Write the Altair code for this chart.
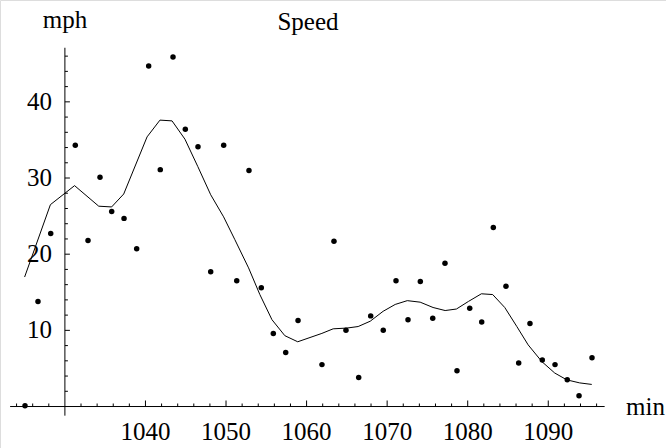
import altair as alt
import pandas as pd

# Observed speed samples (time in minutes, speed in mph)
t_obs = [1025.05, 1026.66, 1028.24, 1031.29, 1032.87, 1034.36, 1035.81, 1037.34,
         1038.91, 1040.40, 1041.84, 1043.42, 1044.95, 1046.52, 1048.10, 1049.71,
         1051.33, 1052.85, 1054.38, 1055.87, 1057.41, 1058.94, 1061.91, 1063.40,
         1064.89, 1066.47, 1067.96, 1069.52, 1071.10, 1072.59, 1074.12, 1075.66,
         1077.18, 1078.67, 1080.25, 1081.74, 1083.18, 1084.75, 1086.33, 1087.73,
         1089.26, 1090.84, 1092.36, 1093.82, 1095.43]
speed_obs = [0.1, 13.8, 22.7, 34.3, 21.8, 30.1, 25.6, 24.7,
             20.7, 44.7, 31.1, 45.9, 36.4, 34.1, 17.7, 34.3,
             16.5, 31.0, 15.6, 9.6, 7.1, 11.3, 5.5, 21.7,
             10.0, 3.8, 11.9, 10.0, 16.5, 11.4, 16.4, 11.6,
             18.8, 4.7, 12.9, 11.1, 23.5, 15.8, 5.7, 10.9,
             6.1, 5.5, 3.5, 1.4, 6.4]

# Smoothed speed curve
t_fit = [1025.0, 1028.2, 1031.2, 1034.2, 1035.8, 1037.3, 1040.2, 1041.8, 1043.3,
         1044.9, 1046.5, 1048.1, 1049.7, 1051.1, 1052.8, 1054.2, 1055.7, 1057.3,
         1058.9, 1061.9, 1063.3, 1065.0, 1066.4, 1067.9, 1069.5, 1071.0, 1072.5,
         1074.1, 1075.7, 1077.2, 1078.6, 1080.1, 1081.7, 1083.1, 1084.6, 1086.1,
         1087.5, 1089.2, 1090.8, 1092.3, 1093.9, 1095.4]
speed_fit = [17.0, 26.5, 29.0, 26.3, 26.2, 27.9, 35.4, 37.6, 37.5,
             35.1, 31.5, 27.8, 24.9, 21.9, 18.2, 14.7, 11.4, 9.3,
             8.5, 9.6, 10.2, 10.3, 10.5, 11.2, 12.5, 13.4, 13.9,
             13.7, 13.0, 12.6, 12.8, 13.8, 14.8, 14.7, 13.0, 10.5,
             8.1, 5.9, 4.4, 3.5, 3.1, 2.9]

# Axis ticks
x_major = [1040, 1050, 1060, 1070, 1080, 1090]
x_minor = [v for v in range(1024, 1097, 2) if v % 10 != 0]
y_major = [10, 20, 30, 40]
y_minor = [v for v in range(2, 47, 2) if v % 10 != 0]

# Axes cross at this origin; extents of the two axis lines
X0, Y0 = 1030, 0
X_RANGE = (1023.2, 1097.0)
Y_RANGE = (-1.2, 47.1)

W, H = 666, 448
FONT = "Liberation Serif"
FS = 25

xs = alt.Scale(domain=[1021.944, 1104.615], nice=False, zero=False)
ys = alt.Scale(domain=[-5.446, 53.37], nice=False, zero=False)

obs = pd.DataFrame({"t": t_obs, "v": speed_obs})
fit = pd.DataFrame({"t": t_fit, "v": speed_fit})

points = alt.Chart(obs).mark_circle(color="black", size=30, opacity=1).encode(
    x=alt.X("t:Q", scale=xs, axis=None),
    y=alt.Y("v:Q", scale=ys, axis=None),
)

curve = alt.Chart(fit).mark_line(color="black", strokeWidth=1).encode(
    x=alt.X("t:Q", scale=xs, axis=None),
    y=alt.Y("v:Q", scale=ys, axis=None),
)

x_axis = alt.Chart(pd.DataFrame({"a": [X_RANGE[0]], "b": [X_RANGE[1]]})).mark_rule(
    color="black", strokeWidth=1
).encode(
    x=alt.X("a:Q", scale=xs, axis=None),
    x2="b:Q",
    y=alt.Y(datum=Y0, scale=ys, axis=None),
)

y_axis = alt.Chart(pd.DataFrame({"a": [Y_RANGE[0]], "b": [Y_RANGE[1]]})).mark_rule(
    color="black", strokeWidth=1
).encode(
    y=alt.Y("a:Q", scale=ys, axis=None),
    y2="b:Q",
    x=alt.X(datum=X0, scale=xs, axis=None),
)

def xticks(vals, size):
    return alt.Chart(pd.DataFrame({"t": vals})).mark_tick(
        orient="vertical", color="black", size=size, thickness=1, opacity=1,
        yOffset=-size / 2,
    ).encode(
        x=alt.X("t:Q", scale=xs, axis=None),
        y=alt.Y(datum=Y0, scale=ys, axis=None),
    )

def yticks(vals, size):
    return alt.Chart(pd.DataFrame({"v": vals})).mark_tick(
        orient="horizontal", color="black", size=size, thickness=1, opacity=1,
        xOffset=size / 2,
    ).encode(
        y=alt.Y("v:Q", scale=ys, axis=None),
        x=alt.X(datum=X0, scale=xs, axis=None),
    )

x_labels = alt.Chart(pd.DataFrame({"t": x_major})).mark_text(
    font=FONT, fontSize=FS, color="black", align="center", baseline="middle", dy=25
).encode(
    x=alt.X("t:Q", scale=xs, axis=None),
    y=alt.Y(datum=Y0, scale=ys, axis=None),
    text=alt.Text("t:Q", format="d"),
)

y_labels = alt.Chart(pd.DataFrame({"v": y_major})).mark_text(
    font=FONT, fontSize=FS, color="black", align="right", baseline="middle", dx=-13
).encode(
    y=alt.Y("v:Q", scale=ys, axis=None),
    x=alt.X(datum=X0, scale=xs, axis=None),
    text=alt.Text("v:Q", format="d"),
)

titles = pd.DataFrame({
    "label": ["Speed", "mph", "min"],
    "px": [308, 64.9, 626],
    "py": [22, 20, 407],
    "al": ["center", "center", "left"],
})

def label(text, px, py, align):
    return alt.Chart(pd.DataFrame({"s": [text]})).mark_text(
        font=FONT, fontSize=FS, color="black", align=align, baseline="middle"
    ).encode(x=alt.value(px), y=alt.value(py), text="s:N")

title_layers = [label(r.label, r.px, r.py, r.al) for r in titles.itertuples()]

chart = alt.layer(
    x_axis, y_axis,
    xticks(x_major, 6), xticks(x_minor, 3),
    yticks(y_major, 5), yticks(y_minor, 3),
    x_labels, y_labels,
    curve, points,
    *title_layers,
).properties(
    width=W, height=H, padding=0, autosize=alt.AutoSizeParams(type="none"),
).configure_view(stroke=None).configure(background="white")

chart.save("out.html", embed_options={"renderer": "svg", "actions": False})
